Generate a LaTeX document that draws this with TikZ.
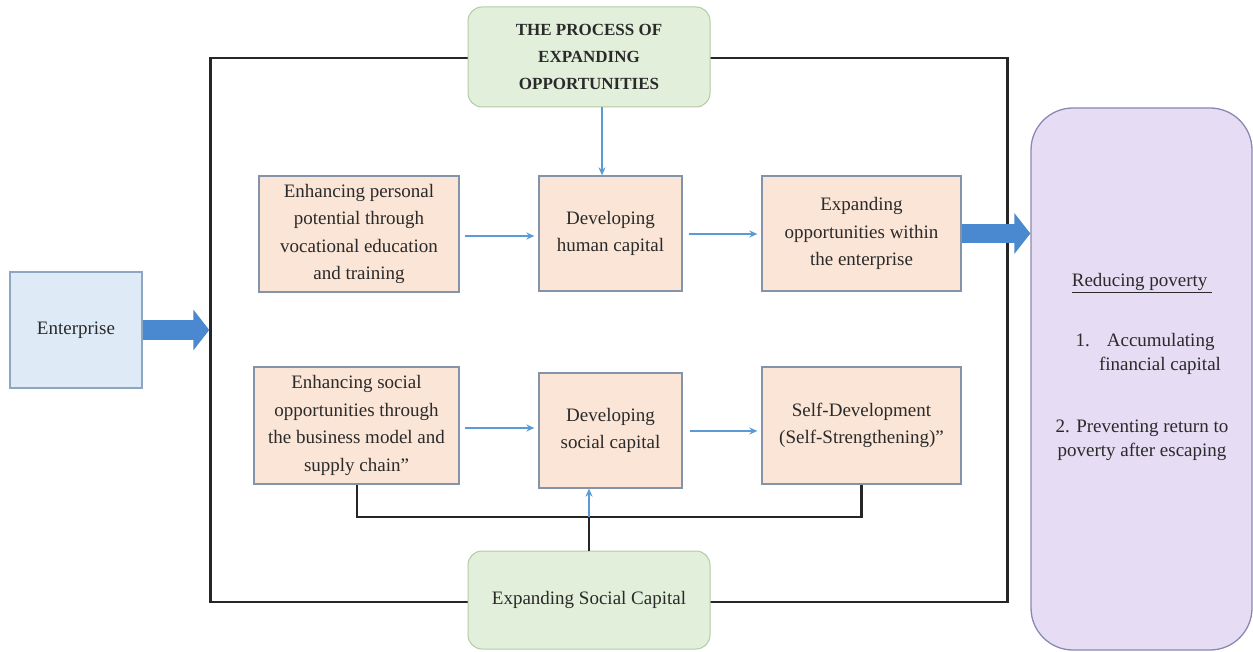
\documentclass[tikz,border=0pt]{standalone}
\usepackage{fontspec}
\setmainfont{LiberationSerif}[Extension=.ttf, UprightFont=*-Regular, BoldFont=*-Bold, ItalicFont=*-Italic, BoldItalicFont=*-BoldItalic]
\usetikzlibrary{arrows.meta}
\definecolor{peach}{HTML}{FBE5D6}
\definecolor{peachedge}{HTML}{8593A8}
\definecolor{greenfill}{HTML}{E2EFDA}
\definecolor{greenedge}{HTML}{B4CBA6}
\definecolor{entfill}{HTML}{DEEBF7}
\definecolor{entedge}{HTML}{8CA6C4}
\definecolor{purfill}{HTML}{E6DCF3}
\definecolor{puredge}{HTML}{8C88B4}
\definecolor{thinblue}{HTML}{5B9BD5}
\definecolor{bigblue}{HTML}{4A89CF}
\definecolor{txt}{HTML}{2A2A2A}
\tikzset{
  stdfont/.style={font=\fontsize{19}{27.5}\selectfont},
  pbox/.style={draw=peachedge, fill=peach, line width=1.3pt, align=center, stdfont, text=txt, inner sep=2pt},
  gbox/.style={draw=greenedge, fill=greenfill, line width=1pt, rounded corners=14pt, align=center, text=txt, minimum width=242pt},
  thinarrow/.style={draw=thinblue, line width=2pt, -{Stealth[length=8pt,width=7pt]}},
  bigarrow/.style={draw=bigblue, line width=19pt, -{Triangle[length=16pt,width=40pt]}},
  frameline/.style={draw=black!85, line width=2.4pt},
  ptext/.style={stdfont, text=txt, inner sep=0pt}
}
\begin{document}
\begin{tikzpicture}[x=1pt,y=-1pt]
\useasboundingbox[fill=white] (0,0) rectangle (1253,652);

% outer frame
\node[frameline, minimum width=797pt, minimum height=544pt, inner sep=0pt] (frame) at (609,330) {};

% enterprise
\node[draw=entedge, fill=entfill, line width=1.3pt, minimum width=132pt, minimum height=116pt, stdfont, text=txt] (ent) at (76,330) {Enterprise};

% top row
\node[pbox, minimum width=200pt, minimum height=116pt] (b1) at (359,234) {Enhancing personal\\potential through\\vocational education\\and training};
\node[pbox, minimum width=143pt, minimum height=115pt] (b2) at (610.5,233.5) {Developing\\human capital};
\node[pbox, minimum width=199pt, minimum height=115pt] (b3) at (861.5,233.5) {Expanding\\opportunities within\\the enterprise};

% bottom row
\node[pbox, minimum width=205pt, minimum height=117pt] (b4) at (356.5,425.5) {Enhancing social\\opportunities through\\the business model and\\supply chain''};
\node[pbox, minimum width=143pt, minimum height=115pt] (b5) at (610.5,430.5) {Developing\\social capital};
\node[pbox, minimum width=199pt, minimum height=117pt] (b6) at (861.5,425.5) {Self-Development\\(Self-Strengthening)''};

% bracket under bottom row
\coordinate (brL) at (357,517);
\draw[draw=black!85, line width=2.2pt] (b4.south -| brL) -- (brL) -- (brL -| b6.south) -- (b6.south);

% green boxes
\node[gbox, minimum height=100pt, font=\bfseries\fontsize{17}{27}\selectfont] (tg) at (589,57) {THE PROCESS OF\\EXPANDING\\OPPORTUNITIES};
\node[gbox, minimum height=98pt, stdfont] (sg) at (589,600) {Expanding Social Capital};

\draw[draw=black!85, line width=2.2pt] (sg.north) -- (sg.north |- brL);
\draw[thinarrow] (sg.north |- brL) -- (sg.north |- b5.south);
\draw[thinarrow] ([xshift=13pt]tg.south) -- ([xshift=13pt]tg.south |- b2.north);

% thin arrows between boxes
\draw[thinarrow] ([xshift=5pt]b1.east |- 0,236) -- ([xshift=-4pt]b2.west |- 0,236);
\draw[thinarrow] ([xshift=6pt]b2.east |- 0,234) -- ([xshift=-4pt]b3.west |- 0,234);
\draw[thinarrow] ([xshift=5pt]b4.east |- 0,428) -- ([xshift=-4pt]b5.west |- 0,428);
\draw[thinarrow] ([xshift=7pt]b5.east |- 0,431) -- ([xshift=-4pt]b6.west |- 0,431);

% purple result box
\node[draw=puredge, fill=purfill, line width=1.3pt, rounded corners=42pt, minimum width=221pt, minimum height=542pt] (pur) at (1141.5,379) {};
\node[ptext] (t0) at (1142,283) {\underline{Reducing poverty\ }};
\node[ptext] (t1) at (1145,342) {1.\hspace{0.9em}Accumulating};
\node[ptext] (t2) at (1160,366) {financial capital};
\node[ptext] (t3) at (1142,428) {2. Preventing return to};
\node[ptext] (t4) at (1142,452) {poverty after escaping};

% big arrows
\draw[bigarrow] (ent.east) -- (ent.east -| frame.west);
\draw[bigarrow] (b3.east) -- (b3.east -| pur.west);
\end{tikzpicture}
\end{document}
